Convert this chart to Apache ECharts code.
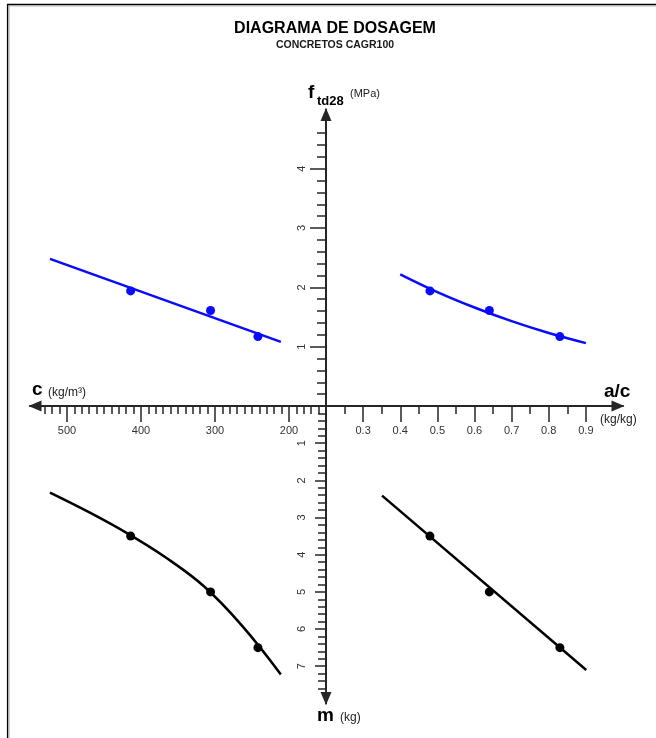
<!DOCTYPE html>
<html>
<head>
<meta charset="utf-8">
<title>Diagrama de Dosagem</title>
<script src="https://cdn.jsdelivr.net/npm/echarts@6/dist/echarts.min.js"></script>
<style>
  html, body { margin: 0; padding: 0; background: #ffffff; }
  #chart { width: 656px; height: 738px; }
</style>
</head>
<body>
<div id="chart"></div>
<script>
// Ensaios (mesmos três traços nos quatro quadrantes)
const acPoints = [0.48, 0.64, 0.83];      // a/c (kg/kg)
const cPoints  = [414, 306, 242];         // consumo de cimento (kg/m³)
const ftPoints = [1.94, 1.61, 1.17];      // ftd28 (MPa)
const mPoints  = [3.5, 5.0, 6.5];         // m (kg)

// Curvas de ajuste
const acCurve   = [0.40, 0.50, 0.60, 0.70, 0.80, 0.90];
const ftCurveAc = [2.22, 1.92, 1.66, 1.43, 1.23, 1.06];
const cLine     = [523, 211];
const ftLineC   = [2.48, 1.08];
const cCurve    = [523, 471, 419, 367, 315, 263, 211];
const mCurveC   = [2.33, 2.85, 3.42, 4.07, 4.85, 5.92, 7.22];
const acLine    = [0.351, 0.901];
const mLineAc   = [2.41, 7.10];

// Rótulos dos eixos
const acTicks = [0.3, 0.4, 0.5, 0.6, 0.7, 0.8, 0.9];
const cTicks  = [200, 300, 400, 500];
const ftTicks = [1, 2, 3, 4];
const mTicks  = [1, 2, 3, 4, 5, 6, 7];

// Escalas
const acRange = [0.2, 1.0];
const cRange  = [150, 550];
const ftRange = [0, 5];
const mRange  = [0, 8];

const FONT = '"Liberation Sans", Arial, sans-serif';
const BLUE = '#0a0aff';
const AXIS_COLOR = '#262626';
const LABEL_COLOR = '#333333';

function steps(from, to, step) {
  const out = [];
  const n = Math.round((to - from) / step);
  for (let i = 0; i <= n; i++) out.push(Math.round((from + i * step) * 1000) / 1000);
  return out;
}
const acMinor = steps(0.25, 0.9, 0.05);
const cMinor  = steps(160, 530, 10);
const ftMinor = steps(0.2, 4.6, 0.2);
const mMinor  = steps(0.2, 7.6, 0.2);

function zip(xs, ys) { return xs.map((x, i) => [x, ys[i]]); }

// Quadrantes: origem comum em (326, 406)
const gridQ1 = { left: 326, top: 109.4, width: 297, height: 296.6 };
const gridQ2 = { left: 30,  top: 109.4, width: 296, height: 296.6 };
const gridQ3 = { left: 30,  top: 406,   width: 296, height: 297.4 };
const gridQ4 = { left: 326, top: 406,   width: 297, height: 297.4 };
function grid(g) { return Object.assign({ containLabel: false, outerBoundsMode: 'none', show: false }, g); }

// seta na extremidade de valor máximo (eixos invertidos têm as pontas trocadas)
function arrowLine(inverse) {
  return {
    show: true, onZero: false,
    symbol: inverse ? ['triangle', 'none'] : ['none', 'triangle'],
    symbolSize: [11, 13],
    symbolOffset: inverse ? [5, 0] : [0, -5],
    lineStyle: { color: AXIS_COLOR, width: 2 }
  };
}
const labelStyle = { fontSize: 11, color: LABEL_COLOR, fontFamily: FONT };

function hiddenAxis(gridIndex, range, inverse) {
  return { type: 'value', gridIndex, min: range[0], max: range[1], inverse: !!inverse, show: false,
           splitLine: { show: false } };
}
function minorAxis(gridIndex, range, values, length, inverse, position) {
  return {
    type: 'value', gridIndex, min: range[0], max: range[1], inverse: !!inverse, position,
    axisLine: { show: false, onZero: false },
    axisTick: { show: true, customValues: values, length, lineStyle: { color: AXIS_COLOR, width: 1.5 } },
    axisLabel: { show: false }, splitLine: { show: false }
  };
}

const xAxes = [
  { // a/c
    type: 'value', gridIndex: 0, min: acRange[0], max: acRange[1], position: 'bottom',
    axisLine: arrowLine(false),
    axisTick: { show: true, customValues: acTicks, length: 16, lineStyle: { color: AXIS_COLOR, width: 1.5 } },
    axisLabel: Object.assign({ customValues: acTicks, margin: 19, formatter: v => v.toFixed(1) }, labelStyle),
    splitLine: { show: false }
  },
  { // c
    type: 'value', gridIndex: 1, min: cRange[0], max: cRange[1], inverse: true, position: 'bottom',
    axisLine: arrowLine(true),
    axisTick: { show: true, customValues: cTicks, length: 16, lineStyle: { color: AXIS_COLOR, width: 1.5 } },
    axisLabel: Object.assign({ customValues: cTicks, margin: 19, formatter: v => String(v) }, labelStyle),
    splitLine: { show: false }
  },
  hiddenAxis(2, cRange, true),
  hiddenAxis(3, acRange, false),
  minorAxis(4, acRange, acMinor, 8, false, 'bottom'),
  minorAxis(5, cRange, cMinor, 8, true, 'bottom'),
  hiddenAxis(6, acRange, false)
];

const yAxes = [
  { // ftd28
    type: 'value', gridIndex: 0, min: ftRange[0], max: ftRange[1], position: 'left',
    axisLine: arrowLine(false),
    axisTick: { show: true, customValues: ftTicks, length: 16, lineStyle: { color: AXIS_COLOR, width: 1.5 } },
    axisLabel: Object.assign({ customValues: ftTicks, margin: 19, rotate: 90, formatter: v => String(v) }, labelStyle),
    splitLine: { show: false }
  },
  hiddenAxis(1, ftRange, false),
  hiddenAxis(2, mRange, true),
  { // m
    type: 'value', gridIndex: 3, min: mRange[0], max: mRange[1], inverse: true, position: 'left',
    axisLine: arrowLine(true),
    axisTick: { show: true, customValues: mTicks, length: 11, lineStyle: { color: AXIS_COLOR, width: 1.5 } },
    axisLabel: Object.assign({ customValues: mTicks, margin: 19, rotate: 90, formatter: v => String(v) }, labelStyle),
    splitLine: { show: false }
  },
  minorAxis(4, ftRange, ftMinor, 9, false, 'left'),
  hiddenAxis(5, ftRange, false),
  minorAxis(6, mRange, mMinor, 8, true, 'left')
];

function curve(xi, yi, xs, ys, color, smooth) {
  return { type: 'line', xAxisIndex: xi, yAxisIndex: yi, data: zip(xs, ys), smooth: smooth,
           showSymbol: false, silent: true, lineStyle: { color, width: 2.5 }, z: 3 };
}
function dots(xi, yi, xs, ys, color) {
  return { type: 'scatter', xAxisIndex: xi, yAxisIndex: yi, data: zip(xs, ys), symbol: 'circle',
           symbolSize: 9, itemStyle: { color, opacity: 1 }, z: 4 };
}

function label(text, x, y, size, bold, color) {
  return { type: 'text', x, y, z: 10,
           style: { text, font: (bold ? 'bold ' : '') + size + 'px ' + FONT, fill: color || '#000',
                    align: 'left', verticalAlign: 'middle' } };
}

const option = {
  animation: false,
  backgroundColor: '#ffffff',
  textStyle: { fontFamily: FONT },
  title: [
    { text: 'DIAGRAMA DE DOSAGEM', left: 330, top: 16, textAlign: 'center',
      textStyle: { fontSize: 16, fontWeight: 'bold', color: '#000', fontFamily: FONT } },
    { text: 'CONCRETOS CAGR100', left: 330, top: 35, textAlign: 'center',
      textStyle: { fontSize: 10.5, fontWeight: 'bold', color: '#1a1a1a', fontFamily: FONT } }
  ],
  grid: [grid(gridQ1), grid(gridQ2), grid(gridQ3), grid(gridQ4), grid(gridQ1), grid(gridQ2), grid(gridQ4)],
  xAxis: xAxes,
  yAxis: yAxes,
  series: [
    curve(0, 0, acCurve, ftCurveAc, BLUE, 0.4),
    dots(0, 0, acPoints, ftPoints, BLUE),
    curve(1, 1, cLine, ftLineC, BLUE, false),
    dots(1, 1, cPoints, ftPoints, BLUE),
    curve(2, 2, cCurve, mCurveC, '#000', 0.4),
    dots(2, 2, cPoints, mPoints, '#000'),
    curve(3, 3, acLine, mLineAc, '#000', false),
    dots(3, 3, acPoints, mPoints, '#000')
  ],
  graphic: [
    // moldura
    { type: 'line', shape: { x1: 7, y1: 4.5, x2: 656, y2: 4.5 }, style: { stroke: '#000', lineWidth: 1.4 } },
    { type: 'line', shape: { x1: 9, y1: 5.9, x2: 656, y2: 5.9 }, style: { stroke: '#a8a8a8', lineWidth: 1 } },
    { type: 'line', shape: { x1: 7.6, y1: 4, x2: 7.6, y2: 738 }, style: { stroke: '#000', lineWidth: 1.4 } },
    { type: 'line', shape: { x1: 9, y1: 6, x2: 9, y2: 738 }, style: { stroke: '#a8a8a8', lineWidth: 1 } },
    // títulos dos eixos
    label('f', 308, 93, 19, true),
    label('td28', 317, 101, 13, true),
    label('(MPa)', 350, 93.5, 11, false, '#222'),
    label('c', 32, 390, 19, true),
    label('(kg/m³)', 48, 392.5, 12, false, '#222'),
    label('a/c', 604, 392, 19, true),
    label('(kg/kg)', 600, 419.5, 12, false, '#222'),
    label('m', 317, 715.5, 19, true),
    label('(kg)', 340, 717.5, 12, false, '#222')
  ]
};

const chart = echarts.init(document.getElementById('chart'), null, { renderer: 'canvas' });
chart.setOption(option);
</script>
</body>
</html>
